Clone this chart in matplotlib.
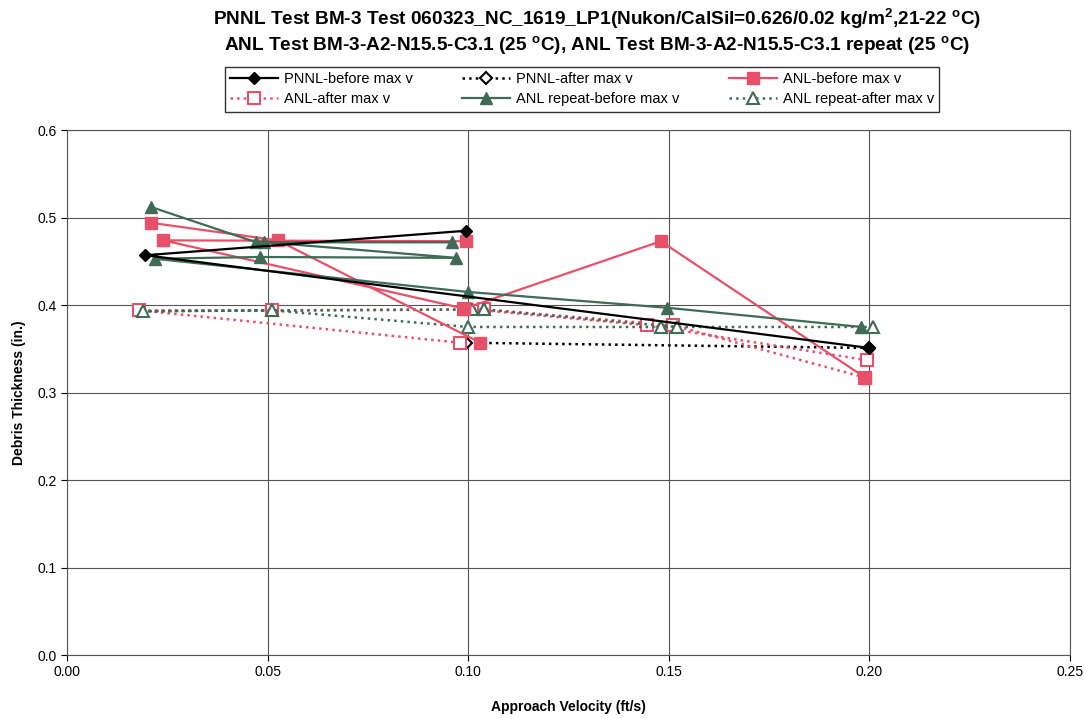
import numpy as np
import matplotlib
matplotlib.use("Agg")
import matplotlib.pyplot as plt
from matplotlib.ticker import FormatStrFormatter

plt.rcParams["font.family"] = ["Liberation Sans", "DejaVu Sans"]

nan = np.nan

# ── data (velocity ft/s, thickness in.) ──────────────────────────────────
pnnl_before_v = [0.0995, 0.0195, 0.200]
pnnl_before_t = [0.485, 0.457, 0.351]

pnnl_after_v = [0.200, 0.0995]
pnnl_after_t = [0.351, 0.357]

anl_before_v = [0.021, 0.0525, 0.103, nan, 0.0995, 0.024, 0.099, 0.148, 0.199]
anl_before_t = [0.494, 0.474, 0.357, nan, 0.473, 0.474, 0.396, 0.473, 0.317]

anl_after_v = [0.199, 0.151, 0.104, 0.051, 0.018, 0.098, nan, 0.099, 0.1445, 0.1995]
anl_after_t = [0.317, 0.377, 0.395, 0.394, 0.394, 0.357, nan, 0.396, 0.377, 0.337]

rep_before_v = [0.021, 0.047, 0.096, 0.049, 0.097, 0.048, 0.0218, 0.100, 0.1495, 0.198]
rep_before_t = [0.512, 0.472, 0.472, 0.472, 0.454, 0.455, 0.453, 0.415, 0.397, 0.375]

rep_after_v = [0.201, 0.148, 0.100, 0.051, 0.019, 0.101, 0.104, 0.152]
rep_after_t = [0.375, 0.375, 0.375, 0.394, 0.393, 0.395, 0.395, 0.375]

title_lines = [
    "PNNL Test BM-3 Test 060323_NC_1619_LP1(Nukon/CalSil=0.626/0.02 kg/m$^\\mathregular{2}$,21-22 $^\\mathregular{o}$C)",
    "ANL Test BM-3-A2-N15.5-C3.1 (25 $^\\mathregular{o}$C), ANL Test BM-3-A2-N15.5-C3.1 repeat (25 $^\\mathregular{o}$C)",
]

RED = "#E8506A"
GREEN = "#3F6B57"

fig = plt.figure(figsize=(10.84, 7.19), dpi=100)
ax = fig.add_axes([0.062, 0.089, 0.925, 0.730])

# "after" series go underneath so the filled max-v points stay visible
h2, = ax.plot(pnnl_after_v, pnnl_after_t, ":", color="black", lw=1.8, zorder=2,
              marker="D", ms=6, mfc="white", mec="black", mew=1.5, label="PNNL-after max v")
h4, = ax.plot(anl_after_v, anl_after_t, ":", color=RED, lw=1.8, zorder=2,
              marker="s", ms=8, mfc="white", mec=RED, mew=1.5, label="ANL-after max v")
h6, = ax.plot(rep_after_v, rep_after_t, ":", color=GREEN, lw=1.8, zorder=2,
              marker="^", ms=8, mfc="white", mec=GREEN, mew=1.5, label="ANL repeat-after max v")
h3, = ax.plot(anl_before_v, anl_before_t, "-", color=RED, lw=1.6, zorder=3,
              marker="s", ms=8, mfc=RED, mec=RED, label="ANL-before max v")
h5, = ax.plot(rep_before_v, rep_before_t, "-", color=GREEN, lw=1.6, zorder=3,
              marker="^", ms=8, mfc=GREEN, mec=GREEN, label="ANL repeat-before max v")
h1, = ax.plot(pnnl_before_v, pnnl_before_t, "-", color="black", lw=1.6, zorder=4,
              marker="D", ms=6, mfc="black", mec="black", label="PNNL-before max v")

ax.set_xlim(0, 0.25)
ax.set_ylim(0, 0.6)
ax.set_xticks(np.arange(0, 0.251, 0.05))
ax.set_yticks(np.arange(0, 0.61, 0.1))
ax.xaxis.set_major_formatter(FormatStrFormatter("%.2f"))
ax.yaxis.set_major_formatter(FormatStrFormatter("%.1f"))
ax.tick_params(labelsize=10, length=4, direction="out")
ax.grid(True, color="#555555", lw=0.8)
ax.set_axisbelow(True)
for s in ax.spines.values():
    s.set_color("#555555")

ax.set_xlabel("Approach Velocity (ft/s)", fontsize=10, fontweight="bold", labelpad=15)
ax.set_ylabel("Debris Thickness (in.)", fontsize=10, fontweight="bold", labelpad=8)

fig.text(0.551, 0.974, title_lines[0], ha="center", va="center", fontsize=13.7,
         fontweight="bold")
fig.text(0.551, 0.936, title_lines[1], ha="center", va="center", fontsize=13.7,
         fontweight="bold")

handles = [h1, h4, h2, h5, h3, h6]
leg = fig.legend(handles=handles, labels=[h.get_label() for h in handles], ncol=3,
                 loc="center", bbox_to_anchor=(0.537, 0.876), fontsize=10.5,
                 frameon=True, fancybox=False, edgecolor="black", handlelength=3.3,
                 columnspacing=3.4, handletextpad=0.4, borderpad=0.35, labelspacing=0.45)
leg.get_frame().set_linewidth(1.0)

fig.savefig("out.png", dpi=100)
